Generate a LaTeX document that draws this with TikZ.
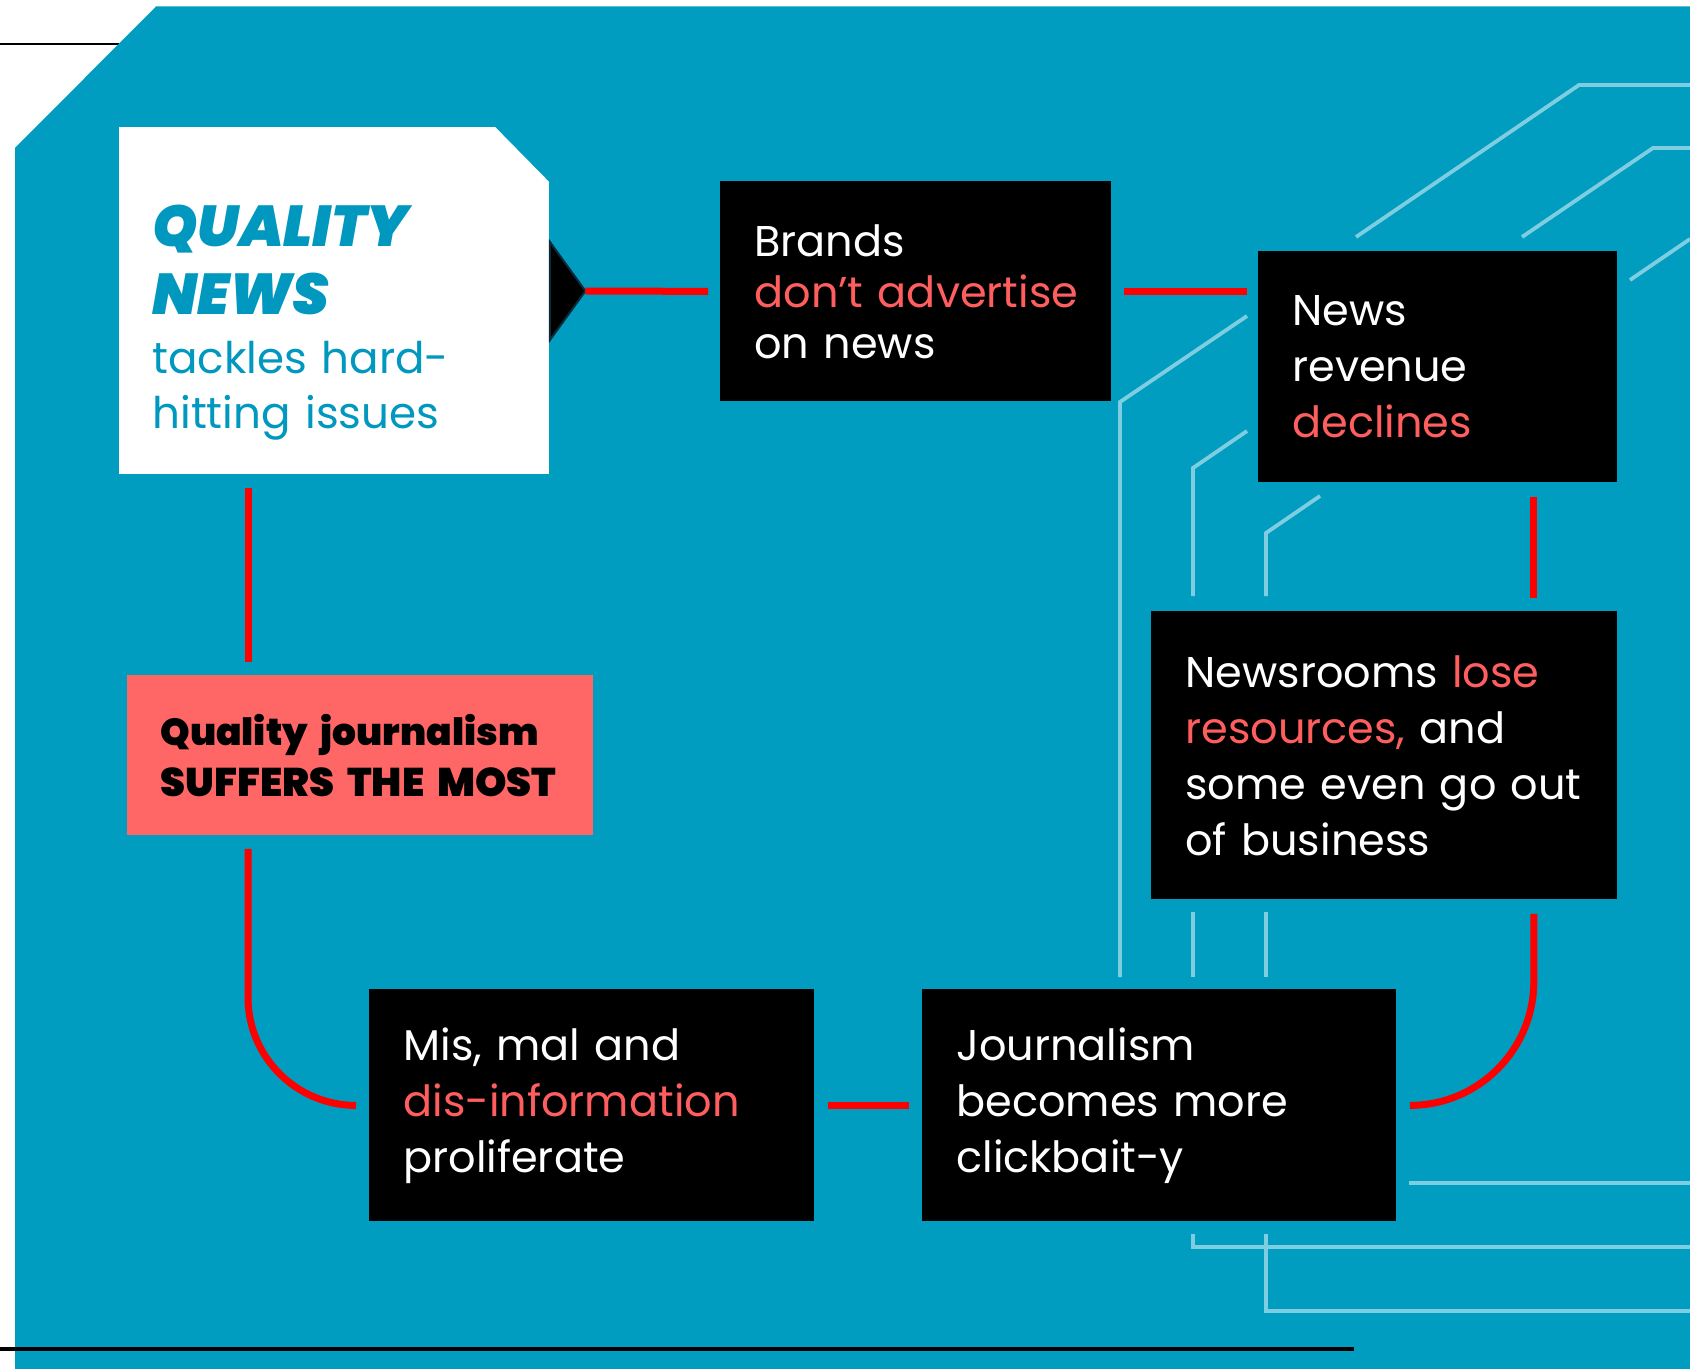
\documentclass[tikz,border=0pt]{standalone}
\usepackage{fontspec}
\setmainfont{Poppins}
\newfontfamily\heavyfont{Poppins}[UprightFont={* Black}, ItalicFont={* Black Italic}]
\usetikzlibrary{calc}

\definecolor{sea}{HTML}{009DC0}
\definecolor{qblue}{HTML}{0098BE}
\definecolor{trace}{HTML}{7FCDE1}
\definecolor{coral}{HTML}{FF6666}
\definecolor{hot}{HTML}{FF5E5E}
\definecolor{wire}{HTML}{FF0000}
\definecolor{navy}{HTML}{0B2A3C}

% one unbreakable line of box text
\newcommand\oneline[1]{\mbox{#1}}

\begin{document}
\begin{tikzpicture}[x=0.5pt,y=-0.5pt,
  rule/.style={draw=black,line width=1.4pt},
  tracer/.style={draw=trace,line width=1.9pt},
  link/.style={draw=wire,line width=3.5pt},
  blackbox/.style={fill=black,text=white,anchor=north west,align=left,
    inner xsep=17pt,inner ysep=0pt,font=\fontsize{21.5}{28}\selectfont},
  pinkbox/.style={fill=coral,text=black,anchor=north west,align=left,
    inner xsep=16.5pt,inner ysep=0pt,font=\heavyfont\fontsize{19.5}{25.3}\selectfont}]

\useasboundingbox (0,0) rectangle (1690,1369);
\fill[white] (0,0) rectangle (1690,1369);

% page rules and the chamfered panel
\draw[rule] (0,44) -- (119,44);
\fill[sea] (156,6.5) -- (1690,6.5) -- (1690,1369) -- (15,1369) -- (15,148) -- cycle;
\draw[rule,line width=1.6pt] (0,1349) -- (1354,1349);

% circuit traces
\draw[tracer] (1356,237) -- (1579,85) -- (1690,85);
\draw[tracer] (1522,237) -- (1653,148) -- (1690,148);
\draw[tracer] (1630,280) -- (1690,239);
\draw[tracer] (1247,316) -- (1120,402) -- (1120,977);
\draw[tracer] (1247,431) -- (1193,468) -- (1193,596);
\draw[tracer] (1193,912) -- (1193,977);
\draw[tracer] (1193,1234) -- (1193,1247) -- (1690,1247);
\draw[tracer] (1320,496) -- (1266,533) -- (1266,596);
\draw[tracer] (1266,912) -- (1266,977);
\draw[tracer] (1266,1234) -- (1266,1311) -- (1690,1311);
\draw[tracer] (1409,1183) -- (1690,1183);

% the starting card
\node[fill=white,anchor=north west,minimum width=215pt,minimum height=173.5pt,inner sep=0pt] (qn) at (118.6,127) {};
\fill[sea] ($(qn.north east)+(-55,-1)$) -- ($(qn.north east)+(1,-1)$) -- ($(qn.north east)+(1,56)$) -- cycle;
\node[anchor=north west,align=left,text width=190pt,inner sep=0pt,text=qblue,
      font=\fontsize{21.8}{28}\selectfont] (qntext) at (152,205)
  {{\heavyfont\itshape\fontsize{28.8}{34}\selectfont \oneline{QUALITY}\\\oneline{NEWS}\par}
   \vspace{2pt}
   {\fontsize{21.8}{27.5}\selectfont \oneline{tackles hard-}\\\oneline{hitting issues}\par}};

% the cycle
\node[blackbox,text width=161.5pt,minimum height=110pt,font=\fontsize{21.5}{25.5}\selectfont] (brands) at (720,181)
  {\oneline{Brands}\\\oneline{\textcolor{hot}{don’t advertise}}\\\oneline{on news}};
\node[blackbox,text width=145.5pt,minimum height=115.5pt] (news) at (1258,251)
  {\oneline{News}\\\oneline{revenue}\\\oneline{\textcolor{hot}{declines}}};
\node[blackbox,text width=199pt,minimum height=144pt] (rooms) at (1151,611)
  {\oneline{Newsrooms \textcolor{hot}{lose}}\\\oneline{\textcolor{hot}{resources,} and}\\\oneline{some even go out}\\\oneline{of business}};
\node[blackbox,text width=203pt,minimum height=116pt] (journ) at (922,989)
  {\oneline{Journalism}\\\oneline{becomes more}\\\oneline{clickbait-y}};
\node[blackbox,text width=188.5pt,minimum height=116pt] (mis) at (369,989)
  {\oneline{Mis, mal and}\\\oneline{\textcolor{hot}{dis-information}}\\\oneline{proliferate}};
\node[pinkbox,text width=200pt,minimum height=80pt] (pink) at (127,675)
  {{\fontsize{18.8}{25.3}\selectfont\oneline{Quality journalism}}\\{\fontsize{20}{25.3}\selectfont\oneline{SUFFERS THE MOST}}};

% pointer and connectors
\coordinate (tip) at ($(qn.north east)+(36,164)$);
\filldraw[fill=black,draw=navy,line width=1pt,line join=miter]
  ($(qn.north east)+(0.5,115)$) -- (tip) -- ($(qn.north east)+(0.5,213)$) -- cycle;
\draw[link] (tip) -- ($(brands.west)+(-12,0)$);
\draw[link] ($(brands.east)+(12,0)$) -- ($(brands.east -| news.west)+(-11,0)$);
\draw[link] ($(news.south east)+(-84,14)$) -- ($(rooms.north east)+(-84,-13)$);
\draw[link,rounded corners=62pt] ($(rooms.south east)+(-84,14)$) |- ($(journ.east)+(13,0)$);
\draw[link] ($(journ.west)+(-13,0)$) -- ($(mis.east)+(13,0)$);
\draw[link,rounded corners=54pt] ($(pink.south west)+(121,13)$) |- ($(mis.west)+(-13,0)$);
\draw[link] ($(qn.south west)+(129.4,13)$) -- ($(pink.north west)+(121,-13)$);
\end{tikzpicture}
\end{document}
